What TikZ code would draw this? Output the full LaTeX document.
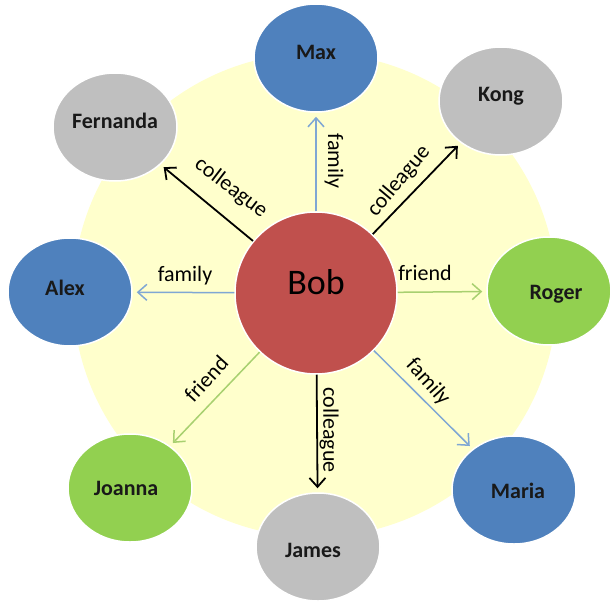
\documentclass[tikz,border=0pt]{standalone}
\usepackage{fontspec}
\setmainfont{Carlito}
\usetikzlibrary{shapes.geometric,arrows.meta}
\definecolor{cblue}{HTML}{4F81BD}
\definecolor{cgray}{HTML}{BFBFBF}
\definecolor{cgreen}{HTML}{92D050}
\definecolor{cred}{HTML}{C0504D}
\definecolor{bgyellow}{HTML}{FFFFCC}
\definecolor{famline}{HTML}{7FA7D4}
\definecolor{friline}{HTML}{A8D070}
\begin{document}
\begin{tikzpicture}[x=1pt,y=-1pt,
  person/.style={ellipse, draw=white, line width=1.5pt, inner sep=0pt,
    minimum width=124pt, minimum height=108pt,
    font=\fontsize{22}{24}\selectfont\bfseries, text=black!90},
  center/.style={circle, draw=white, line width=1.5pt, inner sep=0pt,
    minimum size=162pt, fill=cred,
    font=\fontsize{36}{40}\selectfont, text height=23pt, text depth=20pt},
  rel/.style={line width=1.5pt, shorten >=4pt,
    -{Straight Barb[length=9pt,width=16pt]}},
  colleague/.style={rel, draw=black, line width=1.8pt},
  family/.style={rel, draw=famline},
  friend/.style={rel, draw=friline},
  lbl/.style={font=\fontsize{22}{24}\selectfont, text=black, inner sep=0pt}
]
\useasboundingbox (0,0) rectangle (610,602);
\fill[bgyellow] (315,295) circle[radius=242pt];

\node[center] (bob) at (316,293) {Bob};

\node[person, fill=cblue, text height=15pt, text depth=12pt] (max) at (316,58) {Max};
\node[person, fill=cgray, text height=15pt, text depth=14pt] (kong) at (501,101) {Kong};
\node[person, fill=cgray, text height=15pt, text depth=13pt] (fernanda) at (115,127) {Fernanda};
\node[person, fill=cblue, text height=15pt, text depth=9pt] (alex) at (70,292) {Alex\hspace*{10pt}};
\node[person, fill=cgreen, text height=18pt, text depth=1pt] (roger) at (549,291) {\hspace*{14pt}Roger};
\node[person, fill=cblue, text height=18pt, text depth=1pt] (maria) at (514,490) {\hspace*{8pt}Maria};
\node[person, fill=cgray, text height=22pt, text depth=1pt] (james) at (318,547) {James\hspace*{10pt}};
\node[person, fill=cgreen, text height=15pt, text depth=1pt] (joanna) at (130,488) {Joanna\hspace*{8pt}};

\draw[family] (bob) -- (max) node[lbl, rotate=-90] at (334,161) {family};
\draw[colleague] (bob) -- (kong) node[lbl, rotate=50] at (399,181) {colleague};
\draw[colleague] (bob) -- (fernanda) node[lbl, rotate=-37.5] at (231,188) {colleague};
\draw[family] (bob) -- (alex) node[lbl] at (185,276) {family};
\draw[friend] (bob) -- (roger) node[lbl] at (425,273) {friend};
\draw[family] (bob) -- (maria) node[lbl, rotate=-48] at (428,382) {family};
\draw[colleague] (bob) -- (james) node[lbl, rotate=-90] at (329,430) {colleague};
\draw[friend] (bob) -- (joanna) node[lbl, rotate=47.5] at (206,379) {friend};
\end{tikzpicture}
\end{document}
